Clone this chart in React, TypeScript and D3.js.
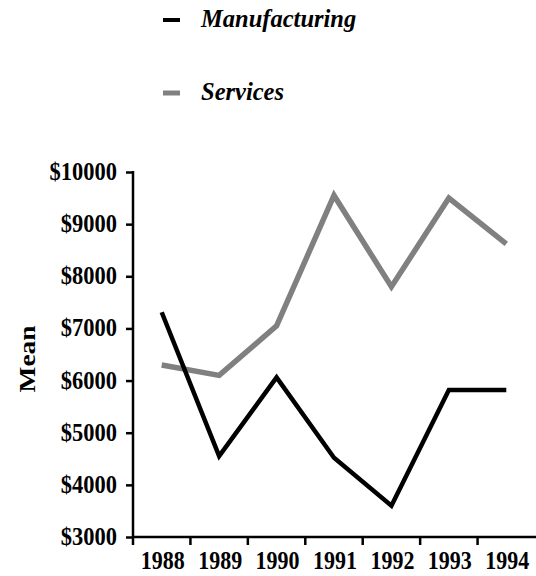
import React, { useEffect, useRef } from "react";
import * as d3 from "d3";

const years = ["1988", "1989", "1990", "1991", "1992", "1993", "1994"];
const manufacturing = [7310, 4550, 6060, 4520, 3600, 5820, 5820];
const services = [6300, 6100, 7050, 9550, 7800, 9500, 8620];
const yTicks = [3000, 4000, 5000, 6000, 7000, 8000, 9000, 10000];

const App: React.FC = () => {
  const svgRef = useRef<SVGSVGElement>(null);

  useEffect(() => {
    const width = 536;
    const height = 576;
    const font = "'Liberation Serif', 'Times New Roman', serif";

    const svg = d3.select(svgRef.current);
    svg.selectAll("*").remove();
    svg.attr("width", width).attr("height", height);

    const x = d3.scaleBand<string>().domain(years).range([133, 535]);
    const y = d3.scaleLinear().domain([3000, 10000]).range([537, 172]);

    // y axis
    const yAxis = svg
      .append("g")
      .attr("transform", "translate(133,0)")
      .call(
        d3
          .axisLeft(y)
          .tickValues(yTicks)
          .tickSize(7)
          .tickPadding(9)
          .tickFormat((d) => `$${d}`)
      );
    yAxis.select(".domain").attr("stroke", "#000").attr("stroke-width", 2.5).attr("d", "M0,537V171");
    yAxis.selectAll(".tick line").attr("stroke", "#000").attr("stroke-width", 2.5);
    yAxis
      .selectAll(".tick text")
      .attr("fill", "#000")
      .attr("dy", "0.3em")
      .attr("transform", "scale(1,1.12)")
      .style("font-family", font)
      .style("font-size", "22.5px")
      .style("font-weight", "bold");

    // x axis, ticks on band edges
    const xg = svg.append("g");
    xg.append("line")
      .attr("x1", 132)
      .attr("x2", 536)
      .attr("y1", 537)
      .attr("y2", 537)
      .attr("stroke", "#000")
      .attr("stroke-width", 2.5);
    xg.selectAll(".xt")
      .data(years)
      .enter()
      .append("line")
      .attr("x1", (d) => x(d)!)
      .attr("x2", (d) => x(d)!)
      .attr("y1", 537)
      .attr("y2", 545)
      .attr("stroke", "#000")
      .attr("stroke-width", 2.5);
    xg.selectAll(".xl")
      .data(years)
      .enter()
      .append("text")
      .attr(
        "transform",
        (d) => `translate(${x(d)! + x.bandwidth() / 2 + 1},569) scale(1,1.18)`
      )
      .attr("text-anchor", "middle")
      .style("font-family", font)
      .style("font-size", "22px")
      .style("font-weight", "bold")
      .text((d) => d);

    // y title
    svg
      .append("text")
      .attr("transform", "translate(35,359) rotate(-90) scale(1.22,1)")
      .attr("text-anchor", "middle")
      .style("font-family", font)
      .style("font-size", "22.5px")
      .style("font-weight", "bold")
      .text("Mean");

    const line = d3
      .line<number>()
      .x((_, i) => x(years[i])! + x.bandwidth() / 2)
      .y((d) => y(d));

    svg
      .append("path")
      .datum(services)
      .attr("d", line)
      .attr("fill", "none")
      .attr("stroke", "#808080")
      .attr("stroke-width", 5.5);

    svg
      .append("path")
      .datum(manufacturing)
      .attr("d", line)
      .attr("fill", "none")
      .attr("stroke", "#000")
      .attr("stroke-width", 4.5);

    // legend
    const legend = [
      { name: "Manufacturing", color: "#000", w: 4, y: 20 },
      { name: "Services", color: "#808080", w: 5, y: 93 },
    ];
    legend.forEach((l) => {
      svg
        .append("line")
        .attr("x1", 163)
        .attr("x2", 180)
        .attr("y1", l.y)
        .attr("y2", l.y)
        .attr("stroke", l.color)
        .attr("stroke-width", l.w);
      svg
        .append("text")
        .attr("x", 201)
        .attr("y", l.y + 7)
        .style("font-family", font)
        .style("font-size", "24.5px")
        .style("font-weight", "bold")
        .style("font-style", "italic")
        .text(l.name);
    });
  }, []);

  return (
    <svg
      ref={svgRef}
      style={{ position: "absolute", left: 0, top: 0, background: "#fff" }}
    ></svg>
  );
};

export default App;
